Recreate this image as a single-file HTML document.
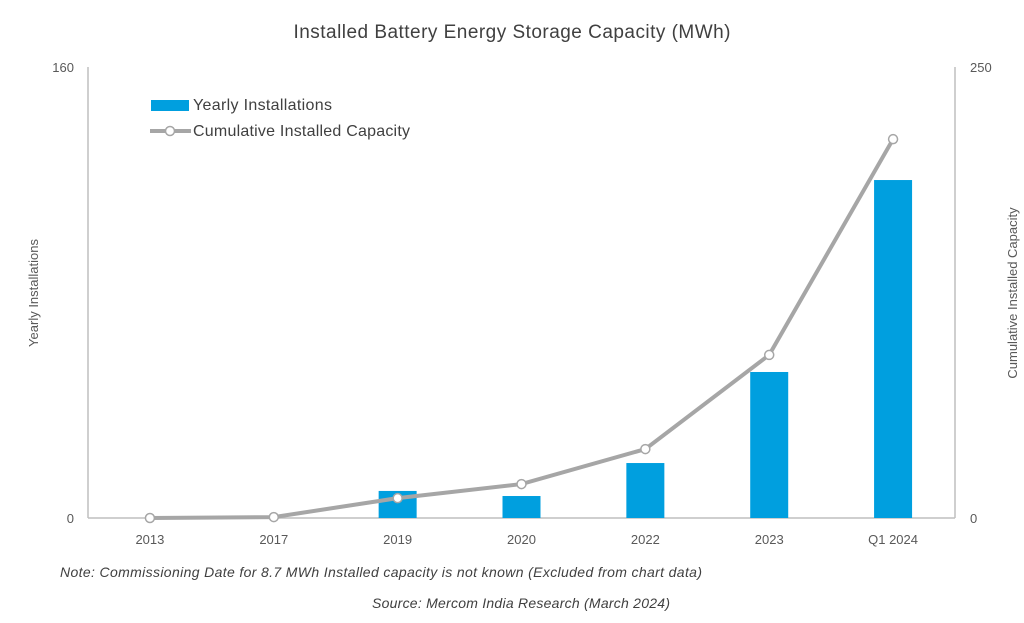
<!DOCTYPE html>
<html><head><meta charset="utf-8"><style>
body{margin:0;background:#fff;}
svg text{font-family:"Liberation Sans",sans-serif;}
</style></head><body>
<svg id="chart" width="1024" height="618" xmlns="http://www.w3.org/2000/svg">
<text x="512" y="38" text-anchor="middle" font-size="19" fill="#404040" textLength="437">Installed Battery Energy Storage Capacity (MWh)</text>
<line x1="88" y1="67" x2="88" y2="518" stroke="#bfbfbf" stroke-width="1.5"/>
<line x1="955" y1="67" x2="955" y2="518" stroke="#bfbfbf" stroke-width="1.5"/>
<line x1="88" y1="518" x2="955" y2="518" stroke="#bfbfbf" stroke-width="1.5"/>
<text x="74" y="72" text-anchor="end" font-size="13" fill="#595959">160</text>
<text x="74" y="523" text-anchor="end" font-size="13" fill="#595959">0</text>
<text x="970" y="72" font-size="13" fill="#595959">250</text>
<text x="970" y="523" font-size="13" fill="#595959">0</text>
<text transform="translate(38,293) rotate(-90)" text-anchor="middle" font-size="13" fill="#595959">Yearly Installations</text>
<text transform="translate(1017,293) rotate(-90)" text-anchor="middle" font-size="13" fill="#595959">Cumulative Installed Capacity</text>
<g id="bars"></g><g id="line"></g><g id="xlabels"></g>
<g>
<rect x="151" y="100" width="38" height="11" fill="#009fdf"/>
<text x="193" y="110" font-size="16" fill="#404040" textLength="139">Yearly Installations</text>
<line x1="150" y1="131" x2="191" y2="131" stroke="#a6a6a6" stroke-width="4"/>
<circle cx="170" cy="131" r="4.5" fill="#fff" stroke="#a6a6a6" stroke-width="1.5"/>
<text x="193" y="136" font-size="16" fill="#404040" textLength="217">Cumulative Installed Capacity</text>
</g>
<text x="60" y="577" font-size="14" font-style="italic" fill="#404040" textLength="642">Note: Commissioning Date for 8.7 MWh Installed capacity is not known (Excluded from chart data)</text>
<text x="372" y="608" font-size="14" font-style="italic" fill="#404040" textLength="298">Source: Mercom India Research (March 2024)</text>
</svg>
<script>
const categories=["2013","2017","2019","2020","2022","2023","Q1 2024"];
const yearly=[0,0,9.6,7.8,19.5,51.8,119.9];
const cumulative=[0,0.5,11,18.8,38.2,90.4,210];
const ns="http://www.w3.org/2000/svg";
const x0=88,x1=955,yb=518,yt=67;
const band=(x1-x0)/categories.length;
const xc=i=>x0+band*(i+0.5);
const yL=v=>yb-(v/160)*(yb-yt);
const yR=v=>yb-(v/250)*(yb-yt);
const bars=document.getElementById('bars'),lg=document.getElementById('line'),xl=document.getElementById('xlabels');
categories.forEach((c,i)=>{
  const r=document.createElementNS(ns,'rect');
  
  
  r.setAttribute('x',xc(i)-19);r.setAttribute('width',38);
  r.setAttribute('y',yL(yearly[i]));r.setAttribute('height',yb-yL(yearly[i]));
  r.setAttribute('fill','#009fdf');bars.appendChild(r);
  const t=document.createElementNS(ns,'text');
  
  
  t.setAttribute('x',xc(i));t.setAttribute('y',544);t.setAttribute('text-anchor','middle');
  t.setAttribute('font-size','13');t.setAttribute('fill','#595959');t.textContent=c;xl.appendChild(t);
});
const p=document.createElementNS(ns,'polyline');


p.setAttribute('points',cumulative.map((v,i)=>xc(i)+','+yR(v)).join(' '));
p.setAttribute('fill','none');p.setAttribute('stroke','#a6a6a6');p.setAttribute('stroke-width','4');
lg.appendChild(p);
cumulative.forEach((v,i)=>{
  const c=document.createElementNS(ns,'circle');
  
  
  c.setAttribute('cx',xc(i));c.setAttribute('cy',yR(v));c.setAttribute('r',4.5);
  c.setAttribute('fill','#fff');c.setAttribute('stroke','#a6a6a6');c.setAttribute('stroke-width','1.5');
  lg.appendChild(c);
});
</script>
</body></html>
